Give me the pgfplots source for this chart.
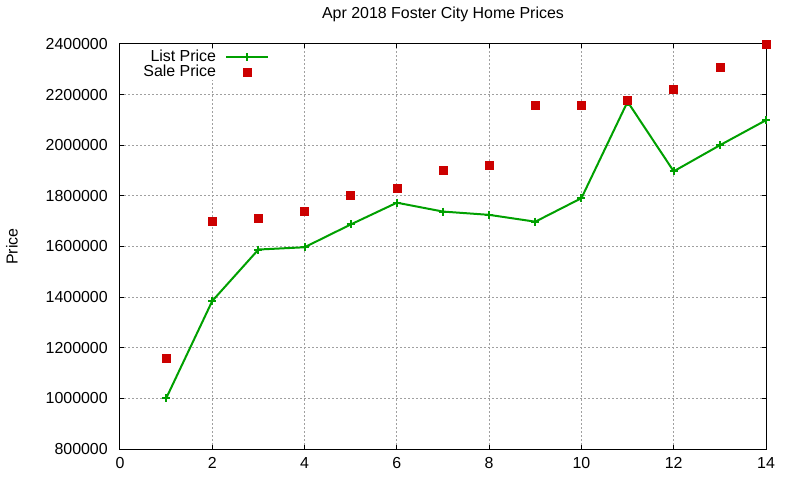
\documentclass[border=0pt]{standalone}
\usepackage{pgfplots}
\pgfplotsset{compat=1.18}
\usepackage{fontspec}
\setmainfont{Liberation Sans}

\definecolor{listgreen}{HTML}{00A000}
\definecolor{salered}{HTML}{CC0000}
\definecolor{gridgray}{HTML}{A0A0A0}

\begin{document}
\begin{tikzpicture}
\begin{axis}[
    name=ax,
    scale only axis,
    width=484.5bp, height=303.75bp,
    xmin=0, xmax=14,
    ymin=800000, ymax=2400000,
    xtick={0,2,...,14},
    ytick={800000,1000000,...,2400000},
    scaled y ticks=false,
    /pgf/number format/fixed,
    /pgf/number format/1000 sep={},
    /pgf/number format/assume math mode=true,
    font=\fontsize{12}{14}\selectfont,
    tick align=inside,
    major tick length=3bp,
    axis line style={line width=0.75bp},
    every tick/.style={black, line width=0.75bp},
    grid=major,
    major grid style={gridgray, line width=0.75bp, dash pattern=on 1.5bp off 1.5bp},
    xticklabel style={inner sep=0pt, yshift=-6bp},
    yticklabel style={inner sep=0pt, xshift=-9bp},
    title={Apr 2018 Foster City Home Prices},
    title style={at={(axis description cs:0.5,1)}, anchor=base, inner sep=0pt, yshift=13.5bp},
    ylabel={Price},
    ylabel style={at={(axis description cs:-0.1672,0.5)}, anchor=center, inner sep=0pt},
    legend cell align=right,
    legend plot pos=right,
    legend image code/.code={\draw[mark repeat=2,mark phase=2,#1] plot coordinates {(0bp,0bp) (15.75bp,0bp) (31.5bp,0bp)};},
    legend style={at={(axis description cs:0.2322,0.988)}, anchor=north east,
        draw=none, fill=white, inner sep=0.5bp, row sep=0bp, column sep=6.75bp,
        nodes={inner sep=0pt, text height=8.6bp, text depth=2.5bp},
        font=\fontsize{12}{14}\selectfont},
]
\addplot[listgreen, line width=1.5bp, mark=+, mark size=3bp, mark options={line width=1.5bp}]
coordinates {
(1,1000000) (2,1385000) (3,1588000) (4,1597000) (5,1687000) (6,1773000) (7,1738000)
(8,1725000) (9,1698000) (10,1791000) (11,2172000) (12,1897000) (13,2000000) (14,2099000)
};
\addlegendentry{List Price}
\addplot[only marks, mark=square*, mark size=3bp, salered, mark options={draw=salered, fill=salered}]
coordinates {
(1,1158000) (2,1698000) (3,1710000) (4,1738000) (5,1801000) (6,1829000) (7,1900000)
(8,1920000) (9,2157000) (10,2157000) (11,2177000) (12,2221000) (13,2310000) (14,2398000)
};
\addlegendentry{Sale Price}
\end{axis}
\pgfresetboundingbox
\useasboundingbox ([xshift=-90bp, yshift=-23.25bp]ax.south west) rectangle ([xshift=25.5bp, yshift=33bp]ax.north east);
\end{tikzpicture}
\end{document}
